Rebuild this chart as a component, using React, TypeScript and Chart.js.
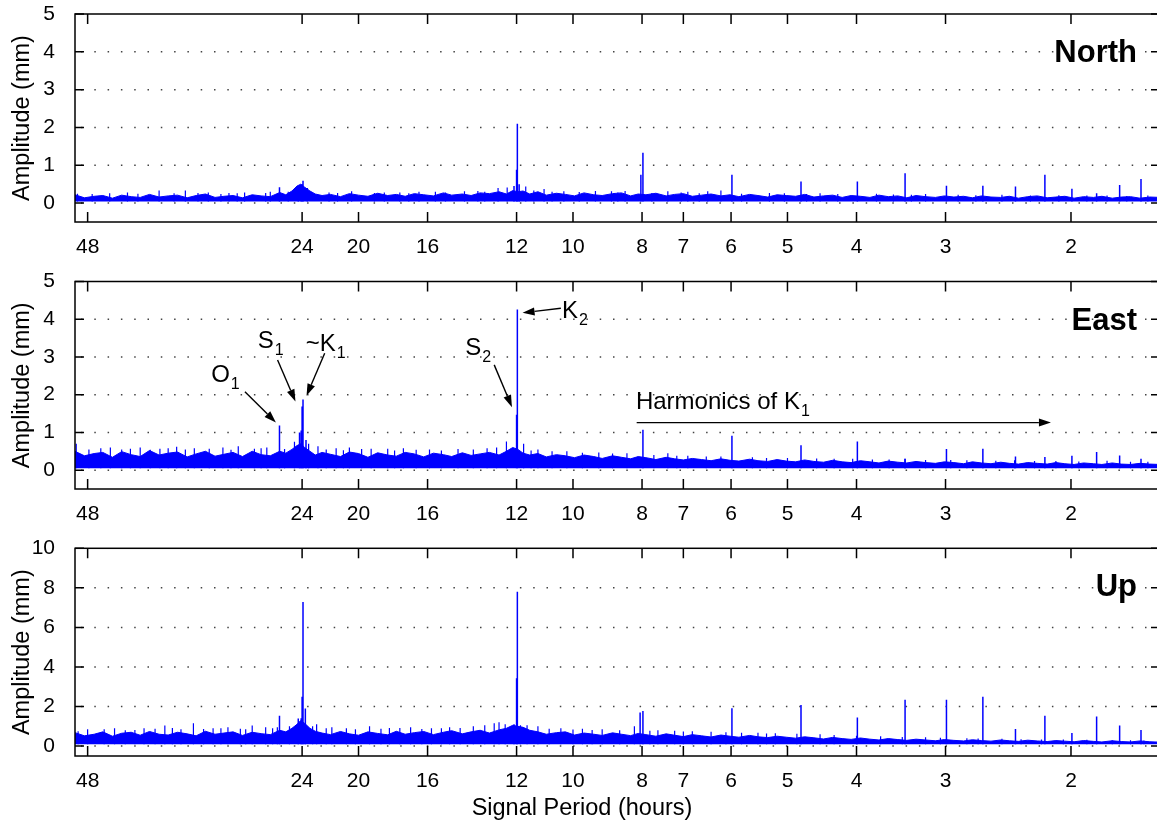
import React, { useEffect, useRef } from 'react';
import { Chart, registerables } from 'chart.js';

Chart.register(...registerables);

const FONT = '"Liberation Sans", Arial, Helvetica, sans-serif';
const BLUE = '#0000ff';

// ---- axes ----
const periodTicks = [48, 24, 20, 16, 12, 10, 8, 7, 6, 5, 4, 3, 2];
const ampTicksNorthEast = [0, 1, 2, 3, 4, 5];
const ampTicksUp = [0, 2, 4, 6, 8, 10];

// ---- noise band (upper edge of the spectrum) at these periods (hours) ----
const envPeriods = [
  50, 48.5, 47, 45.7, 44.3, 43, 41.7, 40.5, 39.3, 38.1,
  37, 35.9, 34.8, 33.8, 32.8, 31.8, 30.9, 30, 29.1, 28.2,
  27.4, 26.6, 25.8, 25.3, 24.8, 24.4, 24.1, 23.8, 23.4, 23,
  22.5, 21.9, 21.2, 20.6, 20, 19.4, 18.8, 18.2, 17.7, 17.2,
  16.7, 16.2, 15.7, 15.2, 14.8, 14.3, 13.9, 13.5, 13.1, 12.7,
  12.4, 12.15, 11.95, 11.75, 11.5, 11.2, 10.9, 10.55, 10.25, 9.95,
  9.65, 9.35, 9.1, 8.8, 8.55, 8.3, 8.1, 7.9, 7.65, 7.4,
  7.2, 7, 6.8, 6.6, 6.4, 6.2, 6.02, 5.85, 5.65, 5.5,
  5.33, 5.17, 5.02, 4.87, 4.73, 4.59, 4.45, 4.32, 4.19, 4.07,
  3.95, 3.83, 3.72, 3.61, 3.5, 3.4, 3.3, 3.2, 3.1, 3.01,
  2.92, 2.83, 2.75, 2.67, 2.59, 2.51, 2.44, 2.37, 2.3, 2.23,
  2.16, 2.1, 2.04, 1.98, 1.92, 1.86, 1.81, 1.75, 1.7, 1.65,
  1.6, 1.55, 1.5,
];

const northNoiseTop = [
  0.22, 0.14, 0.18, 0.2, 0.13, 0.21, 0.17, 0.15, 0.23, 0.16,
  0.19, 0.21, 0.14, 0.2, 0.24, 0.15, 0.18, 0.2, 0.14, 0.22,
  0.19, 0.17, 0.28, 0.22, 0.32, 0.45, 0.5, 0.42, 0.32, 0.24,
  0.2, 0.23, 0.17, 0.25, 0.21, 0.18, 0.26, 0.2, 0.23, 0.18,
  0.25, 0.22, 0.19, 0.27, 0.21, 0.24, 0.2, 0.27, 0.25, 0.3,
  0.24, 0.33, 0.3, 0.32, 0.24, 0.3, 0.21, 0.26, 0.23, 0.19,
  0.27, 0.22, 0.2, 0.25, 0.27, 0.19, 0.24, 0.22, 0.26, 0.19,
  0.23, 0.25, 0.18, 0.21, 0.24, 0.19, 0.22, 0.17, 0.23, 0.2,
  0.16, 0.22, 0.2, 0.18, 0.23, 0.16, 0.19, 0.21, 0.15, 0.2,
  0.18, 0.15, 0.21, 0.17, 0.19, 0.14, 0.2, 0.17, 0.15, 0.19,
  0.16, 0.18, 0.14, 0.19, 0.16, 0.15, 0.18, 0.13, 0.17, 0.19,
  0.14, 0.16, 0.18, 0.13, 0.17, 0.15, 0.18, 0.13, 0.16, 0.17,
  0.13, 0.16, 0.15,
];
const eastNoiseTop = [
  0.5, 0.38, 0.44, 0.47, 0.34, 0.49, 0.41, 0.36, 0.52, 0.4,
  0.45, 0.48, 0.35, 0.43, 0.5, 0.37, 0.42, 0.47, 0.36, 0.5,
  0.41, 0.38, 0.5, 0.45, 0.55, 0.65, 0.7, 0.6, 0.5, 0.4,
  0.47, 0.42, 0.36, 0.48, 0.44, 0.34, 0.46, 0.4, 0.37, 0.47,
  0.43, 0.35, 0.45, 0.41, 0.36, 0.46, 0.39, 0.43, 0.47, 0.4,
  0.5, 0.6, 0.55, 0.45, 0.4, 0.44, 0.35, 0.41, 0.38, 0.33,
  0.4, 0.36, 0.31, 0.38, 0.34, 0.3, 0.36, 0.33, 0.28, 0.34,
  0.3, 0.27, 0.31, 0.28, 0.25, 0.3, 0.26, 0.24, 0.29, 0.25,
  0.23, 0.28, 0.24, 0.22, 0.27, 0.23, 0.21, 0.26, 0.22, 0.2,
  0.25, 0.22, 0.19, 0.24, 0.21, 0.19, 0.23, 0.2, 0.18, 0.22,
  0.2, 0.17, 0.22, 0.19, 0.17, 0.21, 0.18, 0.16, 0.2, 0.18,
  0.16, 0.2, 0.17, 0.15, 0.19, 0.17, 0.15, 0.19, 0.16, 0.15,
  0.18, 0.16, 0.15,
];
const upNoiseTop = [
  0.68, 0.52, 0.6, 0.72, 0.5, 0.65, 0.7, 0.55, 0.74, 0.6,
  0.56, 0.7, 0.62, 0.52, 0.75, 0.6, 0.66, 0.72, 0.54, 0.7,
  0.63, 0.58, 0.8, 0.72, 0.9, 1.1, 1.3, 1.15, 0.9, 0.75,
  0.66, 0.58, 0.74, 0.62, 0.55, 0.72, 0.64, 0.57, 0.75, 0.6,
  0.68, 0.74, 0.58, 0.7, 0.78, 0.62, 0.72, 0.8, 0.66, 0.82,
  0.9, 1.05, 1.0, 0.95, 0.8, 0.72, 0.6, 0.68, 0.72, 0.56,
  0.66, 0.6, 0.54, 0.67, 0.6, 0.53, 0.64, 0.58, 0.5, 0.62,
  0.55, 0.48, 0.58, 0.52, 0.46, 0.56, 0.5, 0.45, 0.54, 0.47,
  0.43, 0.5, 0.45, 0.4, 0.47, 0.42, 0.36, 0.44, 0.38, 0.34,
  0.41, 0.35, 0.31, 0.38, 0.33, 0.29, 0.35, 0.31, 0.27, 0.33,
  0.29, 0.26, 0.32, 0.28, 0.25, 0.31, 0.27, 0.24, 0.3, 0.26,
  0.23, 0.28, 0.25, 0.22, 0.28, 0.24, 0.21, 0.27, 0.23, 0.21,
  0.26, 0.22, 0.2,
];

const northNoiseFloor = 0.04;
const eastNoiseFloor = 0.05;
const upNoiseFloor = 0.1;

// ---- tidal / harmonic peaks ----
const northPeakPeriods = [25.82, 24.3, 24.07, 24.0, 23.93, 23.6, 12.1, 12.0, 11.97, 11.9, 8.03, 7.977, 5.983, 4.786, 3.989, 3.419, 2.991, 2.659, 2.393, 2.176, 1.994, 1.841, 1.709, 1.595];
const northPeakValues = [0.42, 0.38, 0.45, 0.5, 0.59, 0.4, 0.45, 0.88, 2.1, 0.5, 0.75, 1.33, 0.75, 0.57, 0.57, 0.79, 0.46, 0.46, 0.44, 0.75, 0.38, 0.26, 0.48, 0.64];
const eastPeakPeriods = [25.82, 24.2, 24.07, 24.0, 23.93, 23.7, 12.0, 11.97, 7.977, 5.983, 4.786, 3.989, 3.419, 2.991, 2.659, 2.393, 2.176, 1.994, 1.841, 1.709, 1.595];
const eastPeakValues = [1.18, 1.0, 1.05, 1.69, 1.87, 0.8, 1.47, 4.26, 1.07, 0.91, 0.66, 0.76, 0.3, 0.56, 0.57, 0.36, 0.35, 0.38, 0.48, 0.39, 0.3];
const upPeakPeriods = [25.82, 24.3, 24.07, 24.0, 23.93, 23.75, 12.1, 12.0, 11.97, 8.05, 7.977, 5.983, 4.786, 3.989, 3.419, 2.991, 2.659, 2.393, 2.176, 1.994, 1.841, 1.709, 1.595];
const upPeakValues = [1.53, 1.4, 1.41, 2.5, 7.29, 1.9, 1.1, 3.43, 7.8, 1.7, 1.78, 1.92, 2.08, 1.45, 2.34, 2.34, 2.5, 0.86, 1.53, 0.66, 1.5, 1.04, 0.82];

// ---- minor noise spikes ----
const northMinorPeriods = [
  49.6, 44.7, 42.2, 38.1, 35.0, 32.5, 30.4, 28.9, 27.0, 26.6, 22.0, 20.45, 19.0, 17.5, 16.45, 15.6, 14.2, 13.6, 12.74, 12.37, 11.65, 10.98, 10.3, 9.3, 8.83, 8.45, 7.36, 6.9, 6.47, 6.2, 5.3, 4.5, 3.75, 3.2, 2.5, 1.9,
  47.3, 40.8, 36.3, 33.6, 31.2, 29.6, 25.1, 21.4, 18.4, 17.0, 15.1, 13.3, 11.35, 10.7, 9.8, 8.65, 7.75, 7.05, 6.65, 5.8, 5.05, 4.7, 4.25, 3.55, 3.35, 2.88, 2.72, 2.28, 2.08, 1.78, 1.67, 1.56,
];
const northMinorValues = [
  0.25, 0.26, 0.28, 0.33, 0.33, 0.28, 0.27, 0.28, 0.27, 0.3, 0.28, 0.31, 0.27, 0.28, 0.3, 0.3, 0.31, 0.32, 0.4, 0.41, 0.44, 0.37, 0.31, 0.32, 0.31, 0.32, 0.31, 0.3, 0.31, 0.33, 0.27, 0.26, 0.25, 0.24, 0.22, 0.2,
  0.24, 0.25, 0.26, 0.27, 0.24, 0.26, 0.3, 0.27, 0.28, 0.26, 0.28, 0.3, 0.33, 0.3, 0.29, 0.28, 0.27, 0.28, 0.26, 0.25, 0.26, 0.24, 0.24, 0.23, 0.22, 0.22, 0.21, 0.2, 0.21, 0.2, 0.19, 0.2,
];
const eastMinorPeriods = [
  49.8, 46, 43, 40.5, 38, 36, 34, 31, 29.5, 28, 26.9, 24.6, 23.5, 22.8, 21.5, 20.6, 19.8, 18.2, 17.3, 15.9, 14.5, 13.2, 12.4, 11.73, 11.2, 10.2, 9.2, 8.4, 7.36, 7.15, 6.5, 5.6, 5.0, 4.3, 3.8, 3.42, 2.8, 2.25, 1.65,
  47.8, 44.6, 41.8, 39.2, 37, 35, 32.4, 30.2, 27.4, 25.4, 22.2, 21, 19.2, 17.8, 16.6, 15.3, 13.8, 12.8, 11.45, 10.7, 9.7, 8.8, 7.7, 6.9, 6.2, 5.35, 4.55, 4.05, 3.6, 3.2, 2.95, 2.55, 2.4, 2.1, 1.95, 1.78, 1.56,
];
const eastMinorValues = [
  0.7, 0.58, 0.55, 0.6, 0.57, 0.62, 0.58, 0.6, 0.63, 0.57, 0.6, 0.75, 0.7, 0.63, 0.58, 0.6, 0.56, 0.57, 0.58, 0.55, 0.56, 0.58, 0.76, 0.7, 0.55, 0.5, 0.47, 0.45, 0.45, 0.38, 0.36, 0.34, 0.32, 0.3, 0.28, 0.3, 0.26, 0.24, 0.22,
  0.55, 0.6, 0.57, 0.54, 0.58, 0.55, 0.57, 0.54, 0.58, 0.56, 0.55, 0.53, 0.57, 0.52, 0.54, 0.52, 0.55, 0.6, 0.52, 0.5, 0.46, 0.44, 0.4, 0.38, 0.36, 0.32, 0.31, 0.3, 0.28, 0.27, 0.27, 0.25, 0.26, 0.24, 0.23, 0.25, 0.22,
];
const upMinorPeriods = [
  49.5, 45.5, 42.5, 40, 37.4, 35.5, 34.1, 32, 30.5, 29.3, 28.2, 27, 26.4, 25.0, 22.9, 21.8, 20.8, 19.3, 18.1, 16.9, 15.8, 14.9, 13.8, 13.3, 12.9, 12.7, 11.6, 11.2, 10.4, 9.7, 9.1, 8.2, 7.6, 7.2, 6.8, 6.4, 5.5, 5.2, 4.5, 3.7, 3.2, 2.8, 2.5, 2.05, 1.65,
  48, 44, 41.2, 38.6, 36.5, 33, 31.2, 28.8, 26, 23.2, 22.2, 20.2, 18.6, 17.5, 16.3, 15.3, 14.4, 12.45, 11.85, 10.8, 10, 9.4, 8.6, 7.8, 7.0, 6.1, 5.8, 5.35, 4.85, 4.3, 4.0, 3.45, 3.05, 2.7, 2.35, 2.2, 1.9, 1.75, 1.58,
];
const upMinorValues = [
  0.75, 0.85, 0.8, 0.9, 1.04, 0.85, 1.16, 0.9, 0.95, 0.88, 1.04, 0.95, 0.9, 1.0, 1.1, 0.95, 0.9, 1.0, 0.92, 0.95, 0.9, 0.95, 1.0, 1.05, 1.16, 1.2, 1.05, 1.0, 0.9, 0.88, 0.85, 1.0, 0.8, 0.78, 0.75, 0.72, 0.68, 0.65, 0.6, 0.5, 0.45, 0.4, 0.37, 0.33, 0.3,
  0.85, 0.9, 0.82, 0.88, 0.92, 0.86, 0.9, 0.85, 0.95, 1.0, 0.9, 0.85, 0.88, 0.92, 0.86, 0.9, 0.92, 1.1, 1.05, 0.88, 0.84, 0.82, 0.8, 0.78, 0.74, 0.7, 0.68, 0.64, 0.62, 0.56, 0.52, 0.46, 0.42, 0.38, 0.35, 0.34, 0.32, 0.3, 0.28,
];

// ---- East panel annotations (data coordinates: period h, amplitude mm) ----
const eastLabelText = ['O', 'S', '~K', 'S', 'K', 'Harmonics of K'];
const eastLabelSub = ['1', '1', '1', '2', '2', '1'];
const eastLabelPeriod = [32.2, 27.7, 23.72, 14.16, 10.36, 8.16];
const eastLabelAmp = [2.33, 3.24, 3.16, 3.06, 4.03, 1.63];
const eastArrowFromPeriod = [28.87, 25.98, 22.31, 12.9, 10.4, 8.14];
const eastArrowFromAmp = [2.08, 2.92, 3.1, 2.79, 4.29, 1.26];
const eastArrowToPeriod = [26.12, 24.52, 23.66, 12.18, 11.77, 2.134];
const eastArrowToAmp = [1.26, 1.82, 1.97, 1.67, 4.17, 1.26];

function spikePoints(periods: number[], values: number[], base: number) {
  const pts: { x: number; y: number | null }[] = [];
  periods.forEach((p, i) => {
    pts.push({ x: p, y: base }, { x: p, y: values[i] }, { x: p, y: null });
  });
  return pts;
}

function drawArrow(ctx: CanvasRenderingContext2D, x1: number, y1: number, x2: number, y2: number) {
  const ang = Math.atan2(y2 - y1, x2 - x1);
  const L = 12, W = 4;
  const bx = x2 - L * Math.cos(ang), by = y2 - L * Math.sin(ang);
  ctx.beginPath();
  ctx.moveTo(x1, y1);
  ctx.lineTo(bx, by);
  ctx.stroke();
  ctx.beginPath();
  ctx.moveTo(x2, y2);
  ctx.lineTo(bx + W * Math.sin(ang), by - W * Math.cos(ang));
  ctx.lineTo(bx - W * Math.sin(ang), by + W * Math.cos(ang));
  ctx.closePath();
  ctx.fill();
}

type PanelSpec = {
  name: string;
  top: number;
  height: number;
  padTop: number;
  xHeight: number;
  yMax: number;
  yTicks: number[];
  noiseTop: number[];
  floor: number;
  peakPeriods: number[];
  peakValues: number[];
  minorPeriods: number[];
  minorValues: number[];
  annotate: boolean;
  xTitle: boolean;
};

const panels: PanelSpec[] = [
  { name: 'North', top: 0, height: 267, padTop: 14, xHeight: 45, yMax: 5, yTicks: ampTicksNorthEast, noiseTop: northNoiseTop, floor: northNoiseFloor, peakPeriods: northPeakPeriods, peakValues: northPeakValues, minorPeriods: northMinorPeriods, minorValues: northMinorValues, annotate: false, xTitle: false },
  { name: 'East', top: 267, height: 267, padTop: 14.5, xHeight: 45, yMax: 5, yTicks: ampTicksNorthEast, noiseTop: eastNoiseTop, floor: eastNoiseFloor, peakPeriods: eastPeakPeriods, peakValues: eastPeakValues, minorPeriods: eastMinorPeriods, minorValues: eastMinorValues, annotate: true, xTitle: false },
  { name: 'Up', top: 534, height: 290, padTop: 14.3, xHeight: 68, yMax: 10, yTicks: ampTicksUp, noiseTop: upNoiseTop, floor: upNoiseFloor, peakPeriods: upPeakPeriods, peakValues: upPeakValues, minorPeriods: upMinorPeriods, minorValues: upMinorValues, annotate: false, xTitle: true },
];

function makeDecor(spec: PanelSpec) {
  return {
    id: 'decor' + spec.name,
    beforeDatasetsDraw(chart: any) {
      const { ctx, chartArea: a, scales } = chart;
      const y = scales.y;
      ctx.save();
      ctx.strokeStyle = '#444';
      ctx.lineWidth = 1.5;
      ctx.setLineDash([1.5, 11.8]);
      spec.yTicks.forEach((v) => {
        if (v === spec.yMax) return;
        const py = y.getPixelForValue(v);
        ctx.beginPath();
        ctx.moveTo(a.left + 6, py);
        ctx.lineTo(a.right, py);
        ctx.stroke();
      });
      ctx.restore();
    },
    afterDatasetsDraw(chart: any) {
      const { ctx, chartArea: a, scales } = chart;
      const x = scales.x, y = scales.y;
      ctx.save();
      ctx.strokeStyle = '#000';
      ctx.fillStyle = '#000';
      ctx.lineWidth = 1.5;
      ctx.setLineDash([]);
      ctx.strokeRect(a.left, a.top, a.right - a.left, a.bottom - a.top);
      periodTicks.forEach((p) => {
        const px = x.getPixelForValue(p);
        ctx.beginPath();
        ctx.moveTo(px, a.bottom);
        ctx.lineTo(px, a.bottom - 10);
        ctx.moveTo(px, a.top);
        ctx.lineTo(px, a.top + 10);
        ctx.stroke();
      });
      spec.yTicks.forEach((v) => {
        const py = y.getPixelForValue(v);
        ctx.beginPath();
        ctx.moveTo(a.left, py);
        ctx.lineTo(a.left + 9, py);
        ctx.moveTo(a.right, py);
        ctx.lineTo(a.right - 9, py);
        ctx.stroke();
      });
      // panel title
      ctx.font = `bold 31px ${FONT}`;
      ctx.textAlign = 'right';
      ctx.textBaseline = 'alphabetic';
      ctx.fillText(spec.name, a.right - 23, a.top + 48);

      if (spec.annotate) {
        ctx.textAlign = 'left';
        eastLabelText.forEach((t, i) => {
          const tx = x.getPixelForValue(eastLabelPeriod[i]);
          const ty = y.getPixelForValue(eastLabelAmp[i]);
          ctx.font = `24px ${FONT}`;
          ctx.fillText(t, tx, ty);
          const w = ctx.measureText(t).width;
          ctx.font = `16px ${FONT}`;
          ctx.fillText(eastLabelSub[i], tx + w + 1, ty + 7);
        });
        ctx.lineWidth = 1.4;
        eastArrowFromPeriod.forEach((p, i) => {
          drawArrow(
            ctx,
            x.getPixelForValue(p),
            y.getPixelForValue(eastArrowFromAmp[i]),
            x.getPixelForValue(eastArrowToPeriod[i]),
            y.getPixelForValue(eastArrowToAmp[i])
          );
        });
      }
      if (spec.xTitle) {
        ctx.font = `23.5px ${FONT}`;
        ctx.textAlign = 'center';
        ctx.textBaseline = 'middle';
        ctx.fillText('Signal Period (hours)', a.left + 507, a.bottom + 53);
      }
      ctx.restore();
    },
  };
}

function makeConfig(spec: PanelSpec): any {
  return {
    type: 'line',
    data: {
      datasets: [
        {
          data: envPeriods.map((p, i) => ({ x: p, y: spec.noiseTop[i] })),
          borderColor: BLUE,
          backgroundColor: BLUE,
          borderWidth: 1,
          pointRadius: 0,
          tension: 0,
          fill: { value: spec.floor },
        },
        {
          data: spikePoints(spec.minorPeriods, spec.minorValues, spec.floor),
          borderColor: BLUE,
          borderWidth: 1.2,
          pointRadius: 0,
          fill: false,
          spanGaps: false,
        },
        {
          data: spikePoints(spec.peakPeriods, spec.peakValues, spec.floor),
          borderColor: BLUE,
          borderWidth: 1.5,
          pointRadius: 0,
          fill: false,
          spanGaps: false,
        },
      ],
    },
    options: {
      animation: false,
      responsive: false,
      maintainAspectRatio: false,
      layout: { padding: { top: spec.padTop, left: 0, right: 0, bottom: 0 } },
      plugins: { legend: { display: false }, tooltip: { enabled: false } },
      scales: {
        x: {
          type: 'logarithmic',
          reverse: true,
          min: 1.5,
          max: 50,
          grid: { display: false },
          border: { display: false },
          afterBuildTicks: (s: any) => {
            s.ticks = periodTicks.map((v) => ({ value: v }));
          },
          afterFit: (s: any) => {
            s.height = spec.xHeight;
            s.paddingLeft = 0;
            s.paddingRight = 0;
          },
          ticks: {
            autoSkip: false,
            maxRotation: 0,
            padding: 5,
            color: '#000',
            font: { size: 21, family: FONT },
            callback: (v: any) => String(v),
          },
        },
        y: {
          type: 'linear',
          min: -0.5,
          max: spec.yMax,
          grid: { display: false },
          border: { display: false },
          afterBuildTicks: (s: any) => {
            s.ticks = spec.yTicks.map((v) => ({ value: v }));
          },
          afterFit: (s: any) => {
            s.width = 75;
            s.paddingTop = 0;
            s.paddingBottom = 0;
          },
          ticks: {
            padding: 12,
            color: '#000',
            font: { size: 21, family: FONT },
            callback: (v: any) => String(v),
          },
          title: {
            display: true,
            text: 'Amplitude (mm)',
            color: '#000',
            font: { size: 23.5, family: FONT },
            padding: { top: 8.7, bottom: 0 },
          },
        },
      },
    },
    plugins: [makeDecor(spec)],
  };
}

function Panel({ spec }: { spec: PanelSpec }) {
  const ref = useRef<HTMLCanvasElement | null>(null);
  useEffect(() => {
    if (!ref.current) return;
    const chart = new Chart(ref.current, makeConfig(spec));
    return () => chart.destroy();
  }, [spec]);
  return (
    <canvas
      ref={ref}
      width={1160}
      height={spec.height}
      style={{ position: 'absolute', left: 0, top: spec.top, width: 1160, height: spec.height, display: 'block' }}
    />
  );
}

export default function App() {
  return (
    <div
      style={{
        position: 'absolute',
        left: 0,
        top: 0,
        width: 1157,
        height: 824,
        overflow: 'hidden',
        background: '#fff',
      }}
    >
      {panels.map((p) => (
        <Panel key={p.name} spec={p} />
      ))}
    </div>
  );
}
